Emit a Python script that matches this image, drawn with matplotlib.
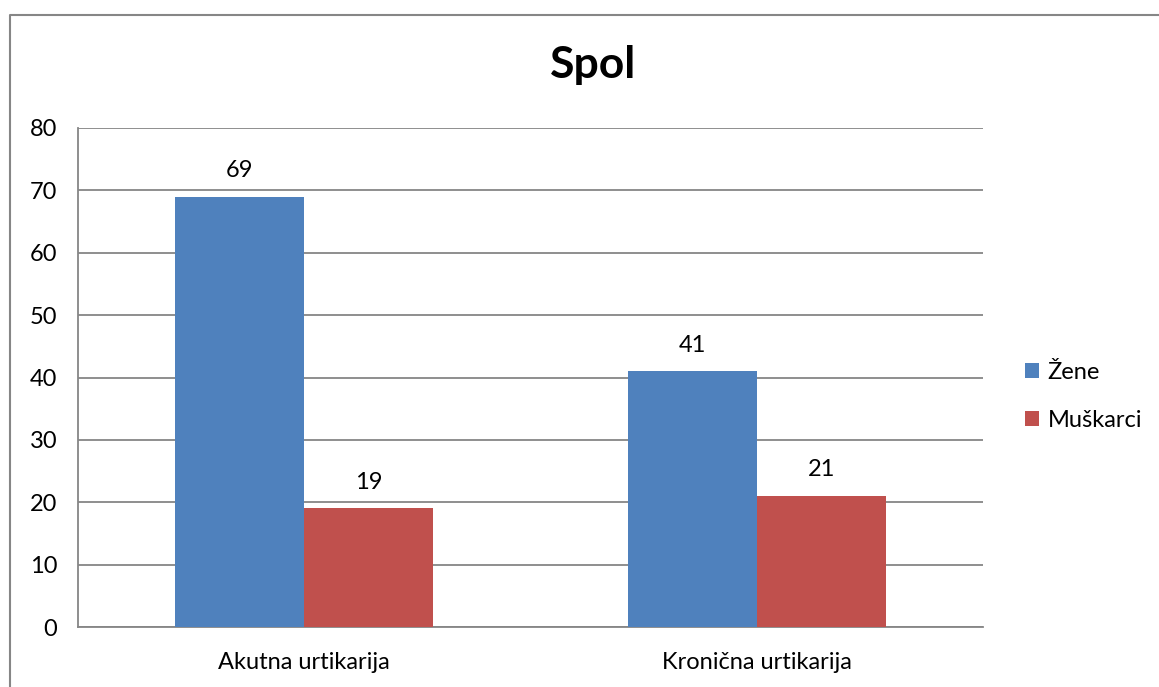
import matplotlib.pyplot as plt
import numpy as np
from matplotlib.lines import Line2D

plt.rcParams['font.family'] = ['Lato', 'DejaVu Sans']

categories = ['Akutna urtikarija', 'Kronična urtikarija']
zene = [69, 41]
muskarci = [19, 21]
series_names = ['Žene', 'Muškarci']
colors = ['#4f81bd', '#c0504d']

W, H = 1159, 687
fig = plt.figure(figsize=(W / 100, H / 100), dpi=100)
ax = fig.add_axes([78 / W, 1 - 627 / H, 905 / W, 499 / H])

x = np.arange(len(categories))
bw = 0.285
ax.bar(x - bw / 2, zene, bw, color=colors[0], label=series_names[0], zorder=3)
ax.bar(x + bw / 2, muskarci, bw, color=colors[1], label=series_names[1], zorder=3)

for xi, v in zip(x - bw / 2, zene):
    ax.text(xi, v + 2.5, str(v), ha='center', va='bottom', fontsize=17)
for xi, v in zip(x + bw / 2, muskarci):
    ax.text(xi, v + 2.5, str(v), ha='center', va='bottom', fontsize=17)

ax.set_xlim(-0.5, 1.5)
ax.set_ylim(0, 80)
ax.set_yticks(range(0, 81, 10))
ax.set_xticks(x)
ax.set_xticklabels(categories)
ax.tick_params(axis='both', length=0, labelsize=17)
ax.tick_params(axis='y', pad=15)
ax.tick_params(axis='x', pad=18)
ax.yaxis.grid(True, color='#868686', linewidth=1.3, zorder=0)
for s in ['top', 'right']:
    ax.spines[s].set_visible(False)
for s in ['left', 'bottom']:
    ax.spines[s].set_color('#868686')
    ax.spines[s].set_linewidth(1.3)

fig.text(593 / W, 1 - 65 / H, 'Spol', ha='center', va='center',
         fontsize=32, fontweight='bold')

ax.legend(loc='center left', bbox_to_anchor=(1.036, 0.462), frameon=False,
          fontsize=17, handlelength=0.6, handleheight=0.6, handletextpad=0.35,
          labelspacing=1.15, borderaxespad=0)

# outer chart border (only top and left visible in the crop)
fig.add_artist(Line2D([9.5 / W, 9.5 / W, 1], [0, 1 - 15 / H, 1 - 15 / H],
                      transform=fig.transFigure, color='#868686', linewidth=1.5))

fig.savefig('out.png', dpi=100)
